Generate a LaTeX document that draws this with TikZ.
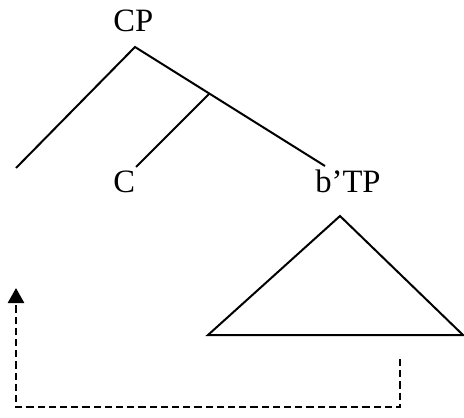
\documentclass[tikz,border=0pt]{standalone}
\usepackage{fontspec}
\setmainfont{Liberation Serif}
\usetikzlibrary{positioning,arrows.meta}

\begin{document}
\begin{tikzpicture}[x=0.5pt, y=-0.5pt,
      label/.style={inner sep=0pt, anchor=base west, font=\fontsize{16.3}{19}\selectfont},
      branch/.style={line width=1pt},
      move/.style={line width=1.3pt, dash pattern=on 3.6pt off 2pt,
                   -{Triangle[width=8pt,length=7.5pt]}}]
    \useasboundingbox (0,0) rectangle (464,417);
    \node[label] (cp) at (113,32) {CP};
    \node[label] (c) at (113,192) {C};
    \node[label] (btp) at (315,192) {b’TP};
    \coordinate (top) at (135,47);
    \coordinate (spec) at (16,168);
    \coordinate (bar) at (209,94);
    \coordinate (cend) at (136,167);
    \coordinate (tend) at (325,166);
    \draw[branch] (spec) -- (top) -- (tend);
    \draw[branch] (bar) -- (cend);
    % triangle under b'TP
    \coordinate (tri) at (340,216);
    \coordinate (trl) at (208,335);
    \coordinate (trr) at (463,335);
    \draw[branch] (trl) -- (tri) -- (trr) -- cycle;
    % movement path
    \coordinate (from) at (400,359);
    \coordinate (to) at (16,288);
    \draw[move] (from) |- (16,407) -- (to);
\end{tikzpicture}
\end{document}
